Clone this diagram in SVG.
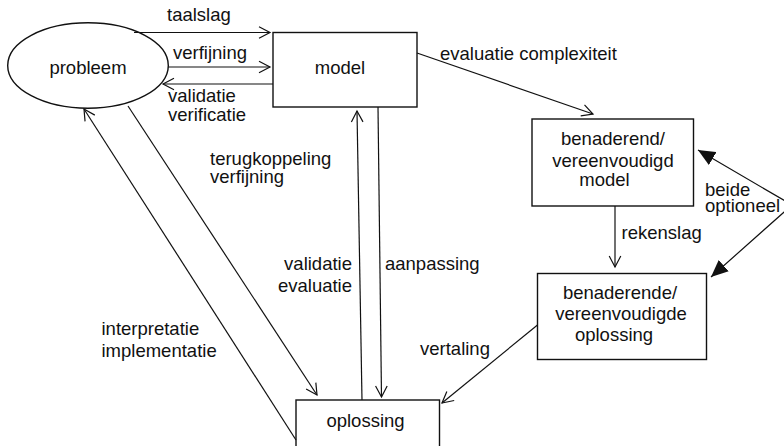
<svg xmlns="http://www.w3.org/2000/svg" width="784" height="446" viewBox="0 0 784 446">
  <style>
    text { font-family: "Liberation Sans", Arial, sans-serif; font-size: 18.5px; fill: #111; }
    .mid { text-anchor: middle; }
    .shape { fill: #fff; stroke: #111; stroke-width: 1.4; }
    .link { fill: none; stroke: #111; stroke-width: 1.2; }
    .open { marker-end: url(#open); }
  </style>
  <defs>
    <marker id="open" viewBox="0 0 14 14" refX="12" refY="7" markerWidth="14" markerHeight="14" markerUnits="userSpaceOnUse" orient="auto">
      <path d="M1,1.2 L12,7 L1,12.8" fill="none" stroke="#111" stroke-width="1.2"/>
    </marker>
    <marker id="solid" viewBox="0 0 18 16" refX="17" refY="8" markerWidth="18" markerHeight="16" markerUnits="userSpaceOnUse" orient="auto-start-reverse">
      <path d="M0,0.5 L17,8 L0,15.5 Z" fill="#111"/>
    </marker>
  </defs>

  <!-- nodes -->
  <g id="probleem">
    <ellipse class="shape" cx="88" cy="65.5" rx="80.3" ry="42.7"/>
    <text class="mid" x="88" y="74">probleem</text>
  </g>
  <g id="model">
    <rect class="shape" x="273" y="32.5" width="144" height="74.5"/>
    <text class="mid" x="340" y="73.5">model</text>
  </g>
  <g id="benaderend-model">
    <rect class="shape" x="532" y="119" width="161.5" height="87"/>
    <text class="mid" x="613" y="145">benaderend/</text>
    <text class="mid" x="613" y="166.5">vereenvoudigd</text>
    <text class="mid" x="604.5" y="185.5">model</text>
  </g>
  <g id="benaderende-oplossing">
    <rect class="shape" x="537.5" y="273.5" width="169" height="86"/>
    <text class="mid" x="620" y="299">benaderende/</text>
    <text class="mid" x="621" y="320">vereenvoudigde</text>
    <text class="mid" x="614" y="340.5">oplossing</text>
  </g>
  <g id="oplossing">
    <rect class="shape" x="296" y="400" width="143.5" height="70"/>
    <text class="mid" x="365.5" y="427">oplossing</text>
  </g>

  <!-- connectors -->
  <g id="connectors">
    <line class="link open" x1="134" y1="32.5" x2="270" y2="32.5"/>
    <line class="link open" x1="168" y1="67" x2="270" y2="67"/>
    <line class="link open" x1="273" y1="84" x2="163" y2="84"/>
    <line class="link open" x1="417" y1="53" x2="593" y2="114"/>
    <line class="link open" x1="615" y1="206" x2="615" y2="267"/>
    <line class="link open" x1="537.5" y1="325" x2="442" y2="403"/>
    <line class="link open" x1="128" y1="106" x2="317" y2="395"/>
    <line class="link open" x1="296" y1="440" x2="84" y2="109"/>
    <line class="link open" x1="362" y1="400" x2="357" y2="111"/>
    <line class="link open" x1="378" y1="107" x2="381.5" y2="397"/>
    <polyline class="link" points="698,150 792,205 711,277" marker-start="url(#solid)" marker-end="url(#solid)"/>
  </g>

  <!-- connector labels -->
  <g id="labels">
    <text x="167" y="21">taalslag</text>
    <text x="173" y="59">verfijning</text>
    <text x="168" y="102">validatie</text>
    <text x="168" y="121">verificatie</text>
    <text x="440" y="59.5">evaluatie complexiteit</text>
    <text x="210" y="165">terugkoppeling</text>
    <text x="210" y="183">verfijning</text>
    <text x="352" y="270" text-anchor="end">validatie</text>
    <text x="352" y="291.5" text-anchor="end">evaluatie</text>
    <text x="385" y="270">aanpassing</text>
    <text x="101.5" y="335">interpretatie</text>
    <text x="101.5" y="356.5">implementatie</text>
    <text x="621.5" y="239">rekenslag</text>
    <text x="705" y="195.5">beide</text>
    <text x="705" y="212">optioneel</text>
    <text x="420" y="355">vertaling</text>
  </g>
</svg>
